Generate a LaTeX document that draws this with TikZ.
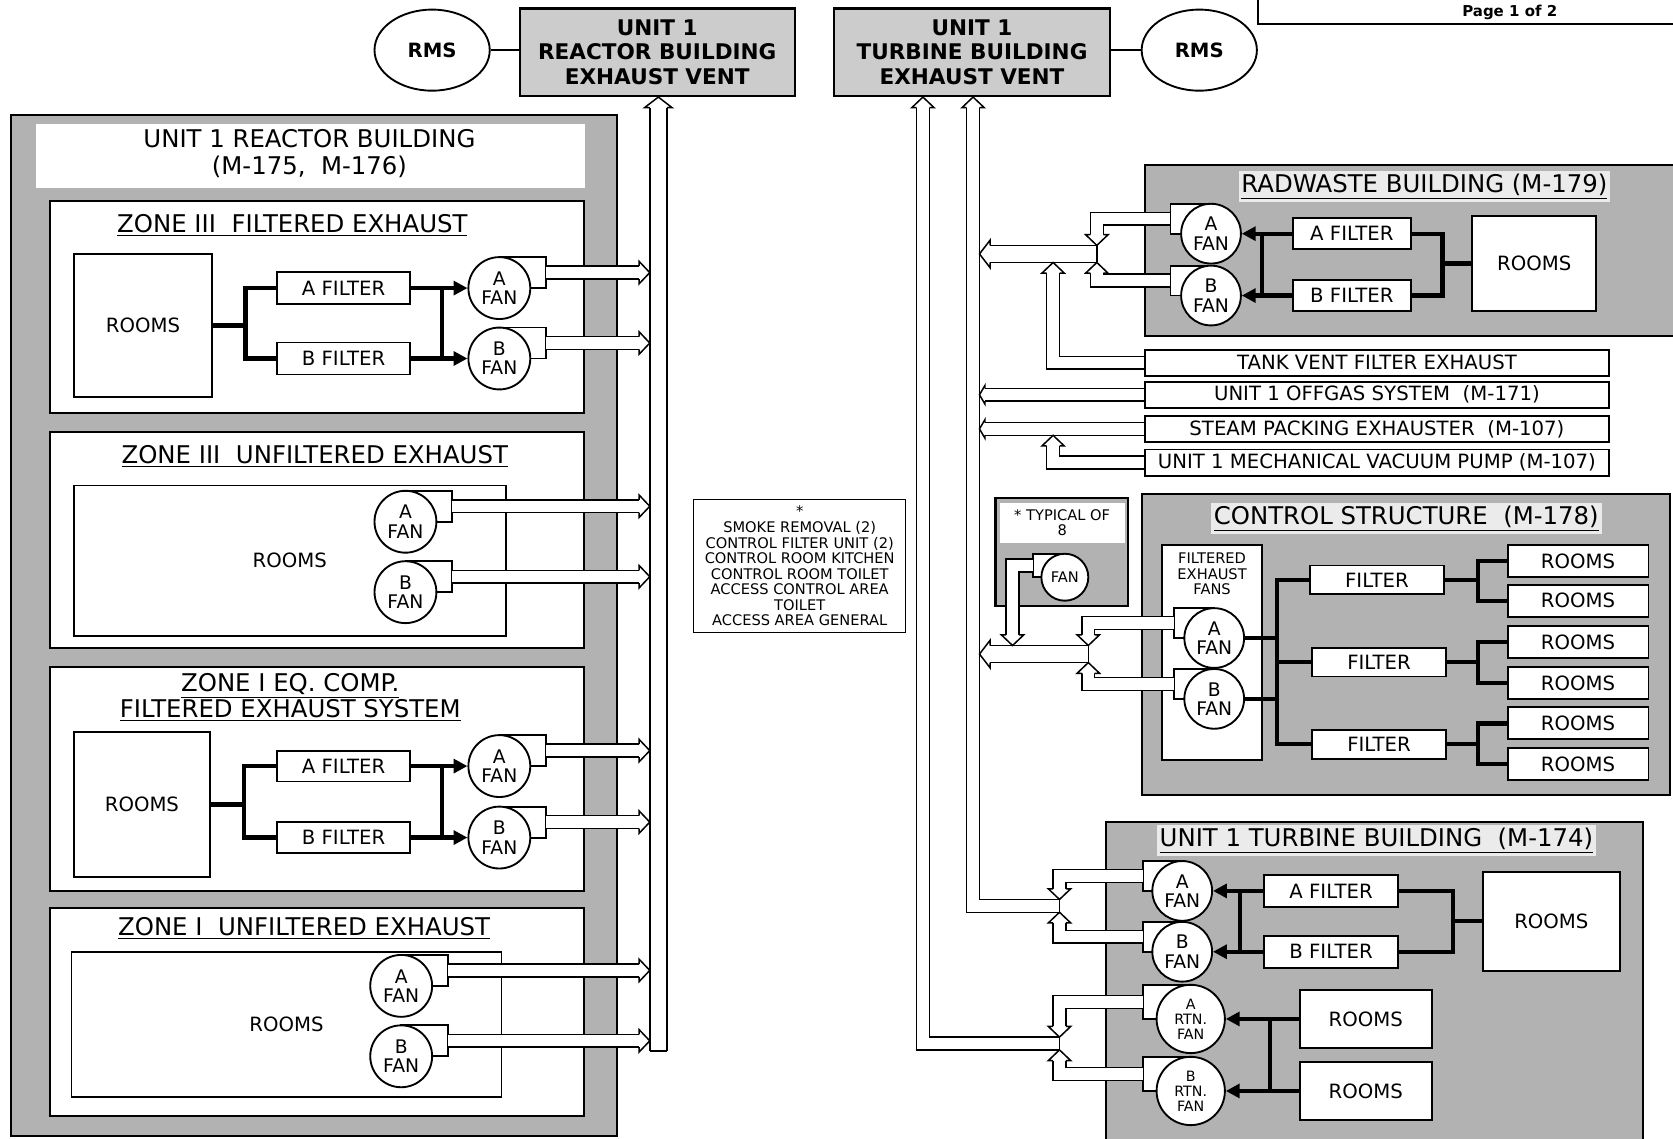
\documentclass[tikz,border=0pt]{standalone}
\usepackage{fontspec}
\setmainfont{DejaVu Sans}
\usetikzlibrary{shapes.geometric, arrows.meta, calc}

\newcommand{\ttlfont}{\fontsize{13}{14.8}\selectfont}
\newcommand{\boxfont}{\fontsize{10.5}{11}\selectfont}
\newcommand{\fanfont}{\fontsize{10}{10.3}\selectfont}
\newcommand{\rtnfont}{\fontsize{7.6}{8}\selectfont}
\newcommand{\notefont}{\fontsize{7.8}{8.3}\selectfont}

% fan with its outlet box: [opts]{name}{centre}{text}{radius}{outlet length}
\newcommand{\fanR}[6][]{%
  \draw[outlet] ($(#3)+(0,-#5)$) rectangle ($(#3)+(#6,0)$);
  \node[fan, minimum size=#5*0.4mm, #1] (#2) at (#3) {#4};
  \coordinate (#2-out) at ($(#3)+(#6,-#5/2)$);}
\newcommand{\fanL}[6][]{%
  \draw[outlet] ($(#3)+(0,-#5)$) rectangle ($(#3)+(-#6,0)$);
  \node[fan, minimum size=#5*0.4mm, #1] (#2) at (#3) {#4};
  \coordinate (#2-out) at ($(#3)+(-#6,-#5/2)$);}

\tikzset{
  ducttip/.pic={\draw[line width=0.8pt, fill=white] (-10,-6) -- (-10,-10.5) -- (0,0) -- (-10,10.5) -- (-10,6);},
  bigtip/.pic={\draw[line width=0.8pt, fill=white] (-10,-8) -- (-10,-13) -- (0,0) -- (-10,13) -- (-10,8);},
  smalltip/.pic={\draw[line width=0.8pt, fill=white] (-5,-6) -- (-5,-8.5) -- (0,0) -- (-5,8.5) -- (-5,6);},
}

\begin{document}
\begin{tikzpicture}[x=0.2mm, y=-0.2mm]
	\tikzstyle{bldg} = [draw=black, line width=1.1pt, fill=black!30]
	\tikzstyle{zone} = [draw=black, line width=1.1pt, fill=white]
	\tikzstyle{rect} = [rectangle, draw=black, line width=1pt, fill=white, inner sep=0pt, text centered, font=\boxfont]
	\tikzstyle{srcbox} = [rect, minimum width=87mm, minimum height=4.9mm]
	\tikzstyle{fan} = [circle, draw=black, line width=1pt, fill=white, inner sep=0pt, align=center, font=\fanfont]
	\tikzstyle{outlet} = [draw=black, line width=1pt, fill=white]
	\tikzstyle{ttl} = [inner sep=1.5pt, font=\ttlfont, align=center]
	\tikzstyle{rms} = [ellipse, draw=black, line width=1pt, fill=white, minimum width=21.6mm, minimum height=15.2mm, font=\bfseries\fontsize{10.5}{12}\selectfont]
	\tikzstyle{vent} = [rectangle, draw=black, line width=1.1pt, fill=black!20, minimum width=51.6mm, minimum height=16.4mm, align=center, font=\bfseries\fontsize{11.5}{13}\selectfont]
	\tikzstyle{duct} = [draw=black, line width=0.8pt, double=white, double distance=2.12mm]
	\tikzstyle{bigduct} = [duct, double distance=2.92mm]
	\tikzstyle{wall} = [line width=0.8pt]
	\tikzstyle{pipe} = [line width=2.3pt]
	\tikzstyle{arrow} = [pipe, -{Triangle[length=2.6mm, width=2.6mm]}]

	\fill[white] (0,0) rectangle (1568,1067);
	\useasboundingbox (0,0) rectangle (1568,1067);

	% vents and monitors
	\node[rms] (rmsR) at (405,47) {RMS};
	\node[vent] (ventR) at (616,49) {UNIT 1\\REACTOR BUILDING\\EXHAUST VENT};
	\node[vent] (ventT) at (911,49) {UNIT 1\\TURBINE BUILDING\\EXHAUST VENT};
	\node[rms] (rmsT) at (1124,47) {RMS};
	\draw[line width=1pt] (rmsR.east) -- (rmsR.east -| ventR.west);
	\draw[line width=1pt] (rmsT.west -| ventT.east) -- (rmsT.west);
	\node[draw, line width=1pt, minimum width=80mm, minimum height=8mm, anchor=south west] (pagebox) at (1178,23) {};
	\node[font=\bfseries\fontsize{8}{9}\selectfont] (page) at (1415,12) {Page 1 of 2};

	% reactor building
	\draw[bldg] (10,108) rectangle (578,1065);
	\fill[white] (34,116) rectangle (548,176);
	\node[ttl] (rbT) at (290,144) {UNIT 1 REACTOR BUILDING\\(M-175,\ \ M-176)};

	% zone III filtered
	\draw[zone] (47,188) rectangle (547,387);
	\node[ttl] (z1T) at (274,211) {\underline{ZONE III\ \ FILTERED EXHAUST}};
	\node[rect, minimum width=26mm, minimum height=26.8mm] (r1) at (134,305) {ROOMS};
	\node[rect, minimum width=24.8mm, minimum height=6mm] (f1a) at (322,270) {A FILTER};
	\node[rect, minimum width=24.8mm, minimum height=6mm] (f1b) at (322,336) {B FILTER};
	\fanR{fan1a}{468,270}{A\\FAN}{29}{44}
	\fanR{fan1b}{468,336}{B\\FAN}{29}{44}
	\coordinate (s1) at (230,305);
	\coordinate (m1) at (414,303);
	\draw[pipe] (r1.east) -- (s1);
	\draw[pipe] (f1a.west) -| (s1) |- (f1b.west);
	\draw[pipe] (f1a.east) -| (m1) |- (f1b.east);
	\draw[arrow] (m1 |- f1a.east) -- (fan1a.west);
	\draw[arrow] (m1 |- f1b.east) -- (fan1b.west);

	% zone III unfiltered
	\draw[zone] (47,405) rectangle (547,607);
	\node[ttl] (z2T) at (295,428) {\underline{ZONE III\ \ UNFILTERED EXHAUST}};
	\node[rect, minimum width=81mm, minimum height=28.2mm] (r2) at (271.5,525.5) {ROOMS};
	\fanR{fan2a}{380,489}{A\\FAN}{29}{44}
	\fanR{fan2b}{380,555}{B\\FAN}{29}{44}

	% zone I eq. comp.
	\draw[zone] (47,625) rectangle (547,835);
	\node[ttl, font=\fontsize{13}{13.7}\selectfont] (z3T) at (272,654) {\underline{ZONE I EQ. COMP.}\\\underline{FILTERED EXHAUST SYSTEM}};
	\node[rect, minimum width=25.6mm, minimum height=27.2mm] (r3) at (133,754) {ROOMS};
	\node[rect, minimum width=24.8mm, minimum height=5.8mm] (f3a) at (322,718) {A FILTER};
	\node[rect, minimum width=24.8mm, minimum height=5.8mm] (f3b) at (322,785) {B FILTER};
	\fanR{fan3a}{468,718}{A\\FAN}{29}{44}
	\fanR{fan3b}{468,785}{B\\FAN}{29}{44}
	\coordinate (s3) at (229,754);
	\coordinate (m3) at (414,752);
	\draw[pipe] (r3.east) -- (s3);
	\draw[pipe] (f3a.west) -| (s3) |- (f3b.west);
	\draw[pipe] (f3a.east) -| (m3) |- (f3b.east);
	\draw[arrow] (m3 |- f3a.east) -- (fan3a.west);
	\draw[arrow] (m3 |- f3b.east) -- (fan3b.west);

	% zone I unfiltered
	\draw[zone] (47,851) rectangle (547,1046);
	\node[ttl] (z4T) at (285,870) {\underline{ZONE I\ \ UNFILTERED EXHAUST}};
	\node[rect, minimum width=80.6mm, minimum height=27.2mm] (r4) at (268.5,960) {ROOMS};
	\fanR{fan4a}{376,924}{A\\FAN}{29}{44}
	\fanR{fan4b}{376,990}{B\\FAN}{29}{44}

	% note
	\node[draw, line width=0.5pt, minimum width=39.8mm, minimum height=25mm, align=center, font=\notefont] (note) at (749.5,530.5) {*\\SMOKE REMOVAL (2)\\CONTROL FILTER UNIT (2)\\CONTROL ROOM KITCHEN\\CONTROL ROOM TOILET\\ACCESS CONTROL AREA\\TOILET\\ACCESS AREA GENERAL};

	% radwaste building
	\draw[bldg] (1073,155) rectangle (1590,315);
	\node[ttl, fill=black!8] (rwT) at (1335,175) {\underline{RADWASTE BUILDING (M-179)}};
	\node[rect, minimum width=22.2mm, minimum height=5.8mm] (fRWa) at (1267,219) {A FILTER};
	\node[rect, minimum width=22.2mm, minimum height=5.8mm] (fRWb) at (1267,277) {B FILTER};
	\node[rect, minimum width=23.2mm, minimum height=17.8mm] (rRW) at (1438,247) {ROOMS};
	\fanL{fanRWa}{1135,219}{A\\FAN}{28}{38}
	\fanL{fanRWb}{1135,277}{B\\FAN}{28}{38}
	\coordinate (sRW) at (1352,247);
	\coordinate (mRW) at (1183,248);
	\draw[pipe] (rRW.west) -- (sRW);
	\draw[pipe] (fRWa.east) -| (sRW) |- (fRWb.east);
	\draw[pipe] (fRWa.west) -| (mRW) |- (fRWb.west);
	\draw[arrow] (mRW |- fRWa.west) -- (fanRWa.east);
	\draw[arrow] (mRW |- fRWb.west) -- (fanRWb.east);

	% other exhaust sources
	\node[srcbox] (tank) at (1290.5,340) {TANK VENT FILTER EXHAUST};
	\node[srcbox] (offgas) at (1290.5,370) {UNIT 1 OFFGAS SYSTEM\ \ (M-171)};
	\node[srcbox] (steam) at (1290.5,402) {STEAM PACKING EXHAUSTER\ \ (M-107)};
	\node[srcbox] (mvp) at (1290.5,433.5) {UNIT 1 MECHANICAL VACUUM PUMP (M-107)};

	% control structure
	\draw[bldg] (1070,463) rectangle (1565,745);
	\node[ttl, fill=black!8] (csT) at (1318,486) {\underline{CONTROL STRUCTURE\ \ (M-178)}};
	\node[rect, minimum width=18.8mm, minimum height=40.2mm] (fef) at (1136,611.5) {};
	\node[align=center, font=\notefont, inner sep=0pt] (fefT) at (1136,538) {FILTERED\\EXHAUST\\FANS};
	\fanL{fanCa}{1138,598}{A\\FAN}{28}{38}
	\fanL{fanCb}{1138,655}{B\\FAN}{28}{38}
	\node[rect, minimum width=25mm, minimum height=5.4mm] (fC1) at (1290.5,543.5) {FILTER};
	\node[rect, minimum width=25mm, minimum height=5.4mm] (fC2) at (1292.5,620.5) {FILTER};
	\node[rect, minimum width=25mm, minimum height=5.4mm] (fC3) at (1292.5,697.5) {FILTER};
	\node[rect, minimum width=26.4mm, minimum height=6mm] (rC1) at (1479,526) {ROOMS};
	\node[rect, minimum width=26.4mm, minimum height=6mm] (rC2) at (1479,563) {ROOMS};
	\node[rect, minimum width=26.4mm, minimum height=6mm] (rC3) at (1479,602) {ROOMS};
	\node[rect, minimum width=26.4mm, minimum height=6mm] (rC4) at (1479,640) {ROOMS};
	\node[rect, minimum width=26.4mm, minimum height=6mm] (rC5) at (1479,678) {ROOMS};
	\node[rect, minimum width=26.4mm, minimum height=6mm] (rC6) at (1479,716) {ROOMS};
	\coordinate (cV) at (1197,620.5);
	\draw[pipe] (fanCa.east) -- (fanCa.east -| cV);
	\draw[pipe] (fanCb.east) -- (fanCb.east -| cV);
	\draw[pipe] (fC1.west) -| (cV) |- (fC3.west);
	\draw[pipe] (cV) -- (fC2.west);
	\coordinate (cR1) at (1385,543.5);
	\coordinate (cR2) at (1385,620.5);
	\coordinate (cR3) at (1385,697.5);
	\draw[pipe] (fC1.east) -- (cR1);
	\draw[pipe] (rC1.west) -| (cR1) |- (rC2.west);
	\draw[pipe] (fC2.east) -- (cR2);
	\draw[pipe] (rC3.west) -| (cR2) |- (rC4.west);
	\draw[pipe] (fC3.east) -- (cR3);
	\draw[pipe] (rC5.west) -| (cR3) |- (rC6.west);

	% typical fan
	\draw[bldg] (933,467) rectangle (1057,568);
	\node[fill=white, minimum width=23.4mm, minimum height=7.6mm, align=center, font=\notefont, inner sep=0pt] (typT) at (995.5,490) {* TYPICAL OF\\8};
	\fanL[font=\notefont]{fanTyp}{998,541}{FAN}{22}{30}

	% turbine building
	\draw[bldg] (1037,770) rectangle (1540,1080);
	\node[ttl, fill=black!8] (tbT) at (1290,788) {\underline{UNIT 1 TURBINE BUILDING\ \ (M-174)}};
	\node[rect, minimum width=25mm, minimum height=6mm] (fTa) at (1247.5,835) {A FILTER};
	\node[rect, minimum width=25mm, minimum height=6mm] (fTb) at (1247.5,892) {B FILTER};
	\node[rect, minimum width=25.6mm, minimum height=18.6mm] (rT) at (1454,863.5) {ROOMS};
	\fanL{fanTa}{1108,835}{A\\FAN}{28}{37}
	\fanL{fanTb}{1108,892}{B\\FAN}{28}{37}
	\coordinate (sT) at (1362,863.5);
	\coordinate (mT) at (1162,863);
	\draw[pipe] (rT.west) -- (sT);
	\draw[pipe] (fTa.east) -| (sT) |- (fTb.east);
	\draw[pipe] (fTa.west) -| (mT) |- (fTb.west);
	\draw[arrow] (mT |- fTa.west) -- (fanTa.east);
	\draw[arrow] (mT |- fTb.west) -- (fanTb.east);
	\node[rect, minimum width=24.8mm, minimum height=10.8mm] (rRa) at (1280,955) {ROOMS};
	\node[rect, minimum width=24.8mm, minimum height=11mm] (rRb) at (1280,1022.5) {ROOMS};
	\fanL[font=\rtnfont]{fanRa}{1116,955}{A\\RTN.\\FAN}{32}{45}
	\fanL[font=\rtnfont]{fanRb}{1116,1022.5}{B\\RTN.\\FAN}{32}{45}
	\coordinate (rV) at (1190,988);
	\draw[arrow] (rRa.west) -- (fanRa.east);
	\draw[arrow] (rRb.west) -- (fanRb.east);
	\draw[pipe] (rV |- rRa.west) -- (rV |- rRb.west);

	% reactor building vent duct
	\coordinate (vRbot) at (617,985);
	\coordinate (vRw) at (609,985);
	\draw[bigduct, shorten >=2mm] (vRbot) -- (ventR.south -| vRbot);
	\pic[rotate=90] at (ventR.south -| vRbot) {bigtip};
	\draw[wall] ($(vRbot)+(-8,0)$) -- ($(vRbot)+(8,0)$);
	\foreach \f in {fan1a,fan1b,fan2a,fan2b,fan3a,fan3b,fan4a,fan4b} {
		\draw[duct, shorten >=2mm] (\f-out) -- (\f-out -| vRw);
		\pic at (\f-out -| vRw) {ducttip};
	}

	% turbine building vent ducts
	\coordinate (d1bot) at (865,978);
	\coordinate (d2bot) at (912,849);
	\coordinate (tJ1) at (993,849);
	\coordinate (tJ2) at (993,978);
	\coordinate (d2w) at (918,500);
	\draw[duct, shorten <=2mm] (ventT.south -| d1bot) -- (d1bot) -- (tJ2);
	\draw[duct, shorten <=2mm] (ventT.south -| d2bot) -- (d2bot) -- (tJ1);
	\pic[rotate=90] at (ventT.south -| d1bot) {ducttip};
	\pic[rotate=90] at (ventT.south -| d2bot) {ducttip};
	\draw[wall] ($(tJ1)+(0,-6)$) -- ($(tJ1)+(0,6)$);
	\draw[wall] ($(tJ2)+(0,-6)$) -- ($(tJ2)+(0,6)$);

	% radwaste ducts
	\coordinate (rwJ) at (1028,238);
	\coordinate (tvTop) at (987,246);
	\coordinate (mpTop) at (987,408);
	\draw[bigduct, shorten >=2mm] (rwJ) -- (rwJ -| d2w);
	\pic[rotate=180] at (rwJ -| d2w) {bigtip};
	\draw[duct, shorten >=2mm] (fanRWa-out) -| ($(rwJ)+(0,-8)$);
	\pic[rotate=-90] at ($(rwJ)+(0,-8)$) {ducttip};
	\draw[duct, shorten >=2mm] (fanRWb-out) -| ($(rwJ)+(0,8)$);
	\pic[rotate=90] at ($(rwJ)+(0,8)$) {ducttip};
	\draw[wall] ($(rwJ)+(0,-8)$) -- ($(rwJ)+(0,8)$);
	\draw[duct, shorten >=2mm] (tank.west) -| (tvTop);
	\pic[rotate=90] at (tvTop) {ducttip};
	\draw[duct, shorten >=1mm] (offgas.west) -- (offgas.west -| d2w);
	\pic[rotate=180] at (offgas.west -| d2w) {smalltip};
	\draw[duct, shorten >=1mm] (steam.west) -- (steam.west -| d2w);
	\pic[rotate=180] at (steam.west -| d2w) {smalltip};
	\draw[duct, shorten >=2mm] (mvp.west) -| (mpTop);
	\pic[rotate=90] at (mpTop) {ducttip};

	% control structure ducts
	\coordinate (cJ) at (1020,613);
	\coordinate (typJ) at (949,605);
	\draw[bigduct, shorten >=2mm] (cJ) -- (cJ -| d2w);
	\pic[rotate=180] at (cJ -| d2w) {bigtip};
	\draw[duct, shorten >=2mm] (fanCa-out) -| ($(cJ)+(0,-8)$);
	\pic[rotate=-90] at ($(cJ)+(0,-8)$) {ducttip};
	\draw[duct, shorten >=2mm] (fanCb-out) -| ($(cJ)+(0,8)$);
	\pic[rotate=90] at ($(cJ)+(0,8)$) {ducttip};
	\draw[wall] ($(cJ)+(0,-8)$) -- ($(cJ)+(0,8)$);
	\draw[duct, shorten >=2mm] (fanTyp-out) -| (typJ);
	\pic[rotate=-90] at (typJ) {ducttip};

	% turbine building fan ducts
	\draw[duct, shorten >=2mm] (fanTa-out) -| ($(tJ1)+(0,-6)$);
	\pic[rotate=-90] at ($(tJ1)+(0,-6)$) {ducttip};
	\draw[duct, shorten >=2mm] (fanTb-out) -| ($(tJ1)+(0,6)$);
	\pic[rotate=90] at ($(tJ1)+(0,6)$) {ducttip};
	\draw[duct, shorten >=2mm] (fanRa-out) -| ($(tJ2)+(0,-6)$);
	\pic[rotate=-90] at ($(tJ2)+(0,-6)$) {ducttip};
	\draw[duct, shorten >=2mm] (fanRb-out) -| ($(tJ2)+(0,6)$);
	\pic[rotate=90] at ($(tJ2)+(0,6)$) {ducttip};

\end{tikzpicture}
\end{document}
